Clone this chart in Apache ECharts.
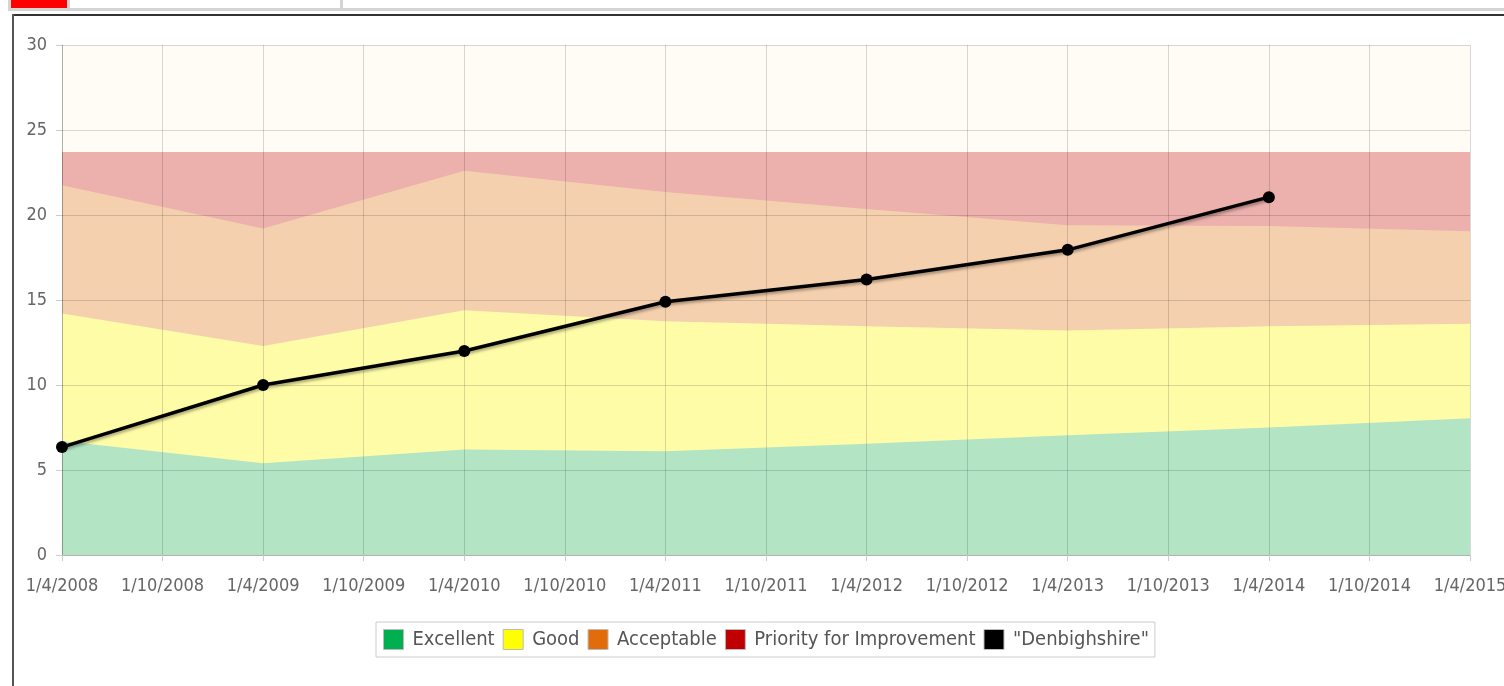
<!DOCTYPE html>
<html>
<head>
<meta charset="utf-8">
<script src="https://cdn.jsdelivr.net/npm/echarts@6/dist/echarts.min.js"></script>
<style>
  html, body { margin: 0; padding: 0; background: #fff; overflow: hidden; }
  .blk { position: absolute; }
  #main { position: absolute; left: 0; top: 0; width: 1504px; height: 686px; }
</style>
</head>
<body>
<!-- page header bits above the chart panel -->
<div class="blk" style="left:8px;top:0;width:1496px;height:11px;background:#d4d4d4"></div>
<div class="blk" style="left:11px;top:0;width:56px;height:8px;background:#ff0000"></div>
<div class="blk" style="left:70px;top:0;width:270px;height:8px;background:#fff"></div>
<div class="blk" style="left:343px;top:0;width:1161px;height:8px;background:#fff"></div>
<div class="blk" style="left:12px;top:14px;width:1492px;height:2px;background:#333"></div>
<div class="blk" style="left:12px;top:14px;width:2px;height:672px;background:#555"></div>
<div id="main"></div>
<script>
// x axis tick labels (every 6 months)
let tickLabels = [
  "1/4/2008", "1/10/2008", "1/4/2009", "1/10/2009", "1/4/2010", "1/10/2010",
  "1/4/2011", "1/10/2011", "1/4/2012", "1/10/2012", "1/4/2013", "1/10/2013",
  "1/4/2014", "1/10/2014", "1/4/2015"
];
// upper boundary of each band, read at each April
let bandDates = ["1/4/2008", "1/4/2009", "1/4/2010", "1/4/2011", "1/4/2012", "1/4/2013", "1/4/2014", "1/4/2015"];
let excellentTop = [6.7, 5.4, 6.2, 6.1, 6.55, 7.05, 7.5, 8.05];
let goodTop = [14.2, 12.3, 14.4, 13.75, 13.45, 13.2, 13.45, 13.6];
let acceptableTop = [21.75, 19.2, 22.6, 21.35, 20.35, 19.4, 19.35, 19.05];
let priorityTop = [23.7, 23.7, 23.7, 23.7, 23.7, 23.7, 23.7, 23.7];
// Denbighshire values
let lineDates = ["1/4/2008", "1/4/2009", "1/4/2010", "1/4/2011", "1/4/2012", "1/4/2013", "1/4/2014"];
let denbighshire = [6.35, 10, 12, 14.9, 16.2, 17.95, 21.05];

let font = "'DejaVu Sans Condensed', 'DejaVu Sans', sans-serif";

function xOf(d) {
  return tickLabels.indexOf(d);
}

// drawn back to front, each area filled down to 0 and covered by the next one
let bands = [
  { name: "Priority for Improvement", color: "#c00000", fill: "#ecb0ad", top: priorityTop },
  { name: "Acceptable", color: "#e36c0a", fill: "#f5d0ae", top: acceptableTop },
  { name: "Good", color: "#ffff00", fill: "#fffca8", top: goodTop },
  { name: "Excellent", color: "#00b050", fill: "#b3e5c4", top: excellentTop }
];

let series = [];
for (let i = 0; i < bands.length; i++) {
  series.push({
    name: bands[i].name,
    type: "line",
    symbol: "none",
    color: bands[i].color,
    z: 1,
    lineStyle: { width: 0 },
    areaStyle: { color: bands[i].fill, opacity: 1 },
    silent: true,
    data: bandDates.map((d, j) => [xOf(d), bands[i].top[j]])
  });
}
series.push({
  name: '"Denbighshire"',
  type: "line",
  color: "#000",
  symbol: "circle",
  symbolSize: 12,
  z: 10,
  lineStyle: {
    color: "#000",
    width: 3.5,
    shadowColor: "rgba(0,0,0,0.35)",
    shadowBlur: 3,
    shadowOffsetX: 1,
    shadowOffsetY: 2
  },
  itemStyle: { color: "#000" },
  data: lineDates.map((d, i) => [xOf(d), denbighshire[i]])
});

let myChart = echarts.init(document.getElementById("main"));
let option = {
  animation: false,
  textStyle: { fontFamily: font },
  grid: {
    left: 62,
    top: 45,
    width: 1408,
    height: 510,
    outerBoundsMode: "none",
    containLabel: false,
    show: true,
    backgroundColor: "#fffcf5",
    borderWidth: 0
  },
  legend: {
    left: 376,
    top: 622,
    icon: "rect",
    itemWidth: 20,
    itemHeight: 20,
    itemGap: 8,
    padding: [7, 6, 7, 7],
    backgroundColor: "#fff",
    borderColor: "#cccccc",
    borderWidth: 1,
    itemStyle: { borderColor: "#bbbbbb", borderWidth: 1 },
    textStyle: { fontFamily: font, fontSize: 20, color: "#555", padding: [0, 0, 0, 4] },
    data: ["Excellent", "Good", "Acceptable", "Priority for Improvement", '"Denbighshire"']
  },
  xAxis: {
    type: "value",
    min: 0,
    max: 14,
    interval: 1,
    z: 3,
    axisLine: { show: true, lineStyle: { color: "rgba(0,0,0,0.18)" } },
    axisTick: { show: true, length: 6, lineStyle: { color: "#cccccc" } },
    axisLabel: {
      margin: 22,
      fontSize: 18,
      color: "#666",
      fontFamily: font,
      formatter: v => tickLabels[v] || ""
    },
    splitLine: { show: true, lineStyle: { color: "rgba(0,0,0,0.15)" } }
  },
  yAxis: {
    type: "value",
    min: 0,
    max: 30,
    interval: 5,
    z: 3,
    axisLine: { show: true, lineStyle: { color: "rgba(0,0,0,0.18)" } },
    axisTick: { show: true, length: 6, lineStyle: { color: "#cccccc" } },
    axisLabel: { margin: 15, fontSize: 18, color: "#666", fontFamily: font },
    splitLine: { show: true, lineStyle: { color: "rgba(0,0,0,0.15)" } }
  },
  series: series
};
myChart.setOption(option);
</script>
</body>
</html>
